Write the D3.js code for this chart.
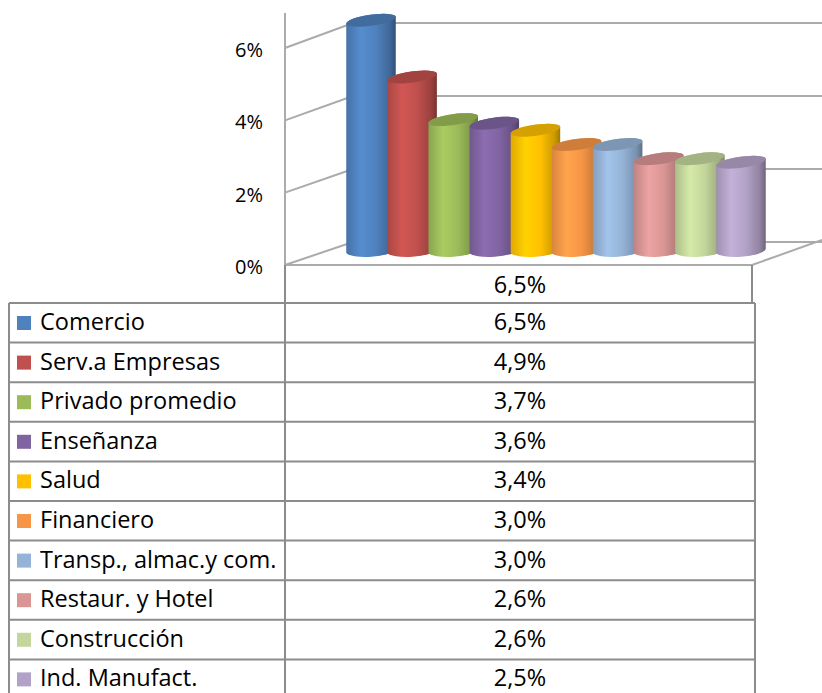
<!DOCTYPE html>
<html>
<head>
<meta charset="utf-8">
<script src="https://cdn.jsdelivr.net/npm/d3@7"></script>
<style>
body{margin:0;background:#fff;}
text{font-family:"Open Sans",Lato,sans-serif;fill:#000;}
</style>
</head>
<body>
<script>
var categories=["Comercio","Serv.a Empresas","Privado promedio","Enseñanza","Salud","Financiero","Transp., almac.y com.","Restaur. y Hotel","Construcción","Ind. Manufact."]
var values=[6.5,4.9,3.7,3.6,3.4,3.0,3.0,2.6,2.6,2.5]
var valueLabels=["6,5%","4,9%","3,7%","3,6%","3,4%","3,0%","3,0%","2,6%","2,6%","2,5%"]
var headerLabel="6,5%"
var colors=["#4F81BD","#C0504D","#9BBB59","#8064A2","#FFC000","#F79646","#95B3D7","#D99694","#C3D69B","#B3A2C7"]
var ticks=[0,2,4,6]

var width=822, height=693
var svg=d3.select("body").append("svg").attr("width",width).attr("height",height)
var defs=svg.append("defs")

// walls: front edge of left wall, back wall
var frontX=285, backX=353, floorRight=752
var yFront=d3.scaleLinear().domain([0,6]).range([265,48])
var yBack=d3.scaleLinear().domain([0,6]).range([242,23])
var yCyl=d3.scaleLinear().domain([0,6]).range([251,251-6*35.5])
var x=d3.scalePoint().domain(categories).range([371,741])

var grid=svg.append("g").attr("stroke","#ababab").attr("stroke-width",2).attr("fill","none")
ticks.forEach(function(t){
  grid.append("line").attr("x1",frontX).attr("y1",yFront(t)).attr("x2",backX).attr("y2",yBack(t))
  grid.append("line").attr("x1",backX).attr("y1",yBack(t)).attr("x2",width).attr("y2",yBack(t))
})
grid.append("line").attr("x1",frontX).attr("y1",13).attr("x2",frontX).attr("y2",265)
grid.append("line").attr("x1",frontX).attr("y1",265).attr("x2",floorRight).attr("y2",265)
grid.append("line").attr("x1",floorRight).attr("y1",265).attr("x2",floorRight+70).attr("y2",240)

svg.append("g").selectAll("text").data(ticks).enter().append("text")
  .attr("x",263).attr("y",function(d){return yFront(d)+9})
  .attr("text-anchor","end").attr("font-size",20)
  .text(function(d){return d+"%"})

// cylinders
var rx=25, ry=5.5, tilt=-8
var sx=rx*Math.cos(tilt*Math.PI/180), sy=rx*Math.sin(tilt*Math.PI/180)
colors.forEach(function(c,i){
  var g=defs.append("linearGradient").attr("id","g"+i)
  var cc=d3.color(c)
  g.append("stop").attr("offset","0").attr("stop-color",cc.darker(0.35))
  g.append("stop").attr("offset","0.3").attr("stop-color",cc.brighter(0.25))
  g.append("stop").attr("offset","0.6").attr("stop-color",cc)
  g.append("stop").attr("offset","0.88").attr("stop-color",cc.darker(0.6))
  g.append("stop").attr("offset","1").attr("stop-color",cc.darker(1.3))
})
var bars=svg.append("g")
categories.forEach(function(cat,i){
  var cx=x(cat), yt=yCyl(values[i]), yb=yCyl(0)
  var p="M"+(cx-sx)+","+(yt-sy)+" L"+(cx-sx)+","+(yb-sy*0.5)
    +" A"+rx+" "+(ry+1)+" "+(tilt/2)+" 0 0 "+(cx+sx)+","+(yb+sy*0.5)
    +" L"+(cx+sx)+","+(yt+sy)
    +" A"+rx+" "+ry+" "+tilt+" 0 0 "+(cx-sx)+","+(yt-sy)+" Z"
  bars.append("path").attr("d",p).attr("fill","url(#g"+i+")")
  bars.append("ellipse").attr("cx",cx).attr("cy",yt).attr("rx",rx).attr("ry",ry)
    .attr("transform","rotate("+tilt+","+cx+","+yt+")")
    .attr("fill",d3.color(colors[i]).darker(0.5))
})

// data table
var rowTop=303, rowH=39.6, tLeft=9, tMid=285, tRight=755
var table=svg.append("g")
var lines=table.append("g").attr("stroke","#8c8c8c").attr("stroke-width",2)
lines.append("line").attr("x1",tMid).attr("y1",265).attr("x2",tMid).attr("y2",height)
lines.append("line").attr("x1",floorRight).attr("y1",265).attr("x2",floorRight).attr("y2",rowTop)
lines.append("line").attr("x1",tRight).attr("y1",rowTop).attr("x2",tRight).attr("y2",height)
lines.append("line").attr("x1",tLeft).attr("y1",rowTop).attr("x2",tLeft).attr("y2",height)
d3.range(categories.length+1).forEach(function(i){
  lines.append("line").attr("x1",tLeft).attr("y1",rowTop+i*rowH).attr("x2",tRight).attr("y2",rowTop+i*rowH)
})
table.append("text").attr("x",(tMid+tRight)/2).attr("y",rowTop-10).attr("text-anchor","middle")
  .attr("font-size",23.5).text(headerLabel)
var rows=table.selectAll("g.row").data(categories).enter().append("g").attr("class","row")
  .attr("transform",function(d,i){return "translate(0,"+(rowTop+i*rowH)+")"})
rows.append("rect").attr("x",17).attr("y",13).attr("width",14).attr("height",14)
  .attr("fill",function(d,i){return colors[i]})
rows.append("text").attr("x",40).attr("y",27).attr("font-size",23.5).text(function(d){return d})
rows.append("text").attr("x",(tMid+tRight)/2).attr("y",27).attr("text-anchor","middle")
  .attr("font-size",23.5).text(function(d,i){return valueLabels[i]})
</script>
</body>
</html>
